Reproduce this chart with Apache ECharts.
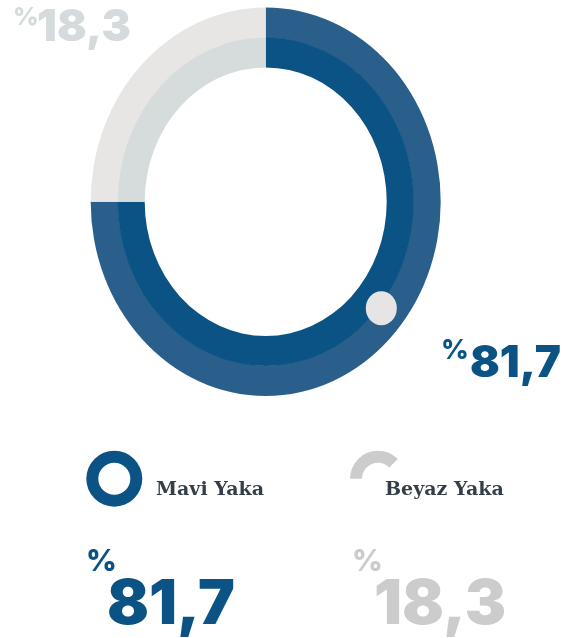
<!DOCTYPE html>
<html>
<head>
<meta charset="utf-8">
<script src="https://cdn.jsdelivr.net/npm/echarts@6/dist/echarts.min.js"></script>
<style>
html,body{margin:0;padding:0;background:#fff;}
#chart{width:579px;height:638px;}
</style>
</head>
<body>
<div id="chart"></div>
<script>
// ---- data ----
const categories = ['Mavi Yaka', 'Beyaz Yaka'];
const shares = [81.7, 18.3];          // printed percentages
const arcShares = [75, 25];           // arc extent as drawn in the ring
const outerColors = ['#2a5f8c', '#e7e6e4'];
const innerColors = ['#0b5384', '#d6dcdc'];
const textColors = ['#0b5384', '#cccccc'];

const fmt = v => String(v).replace('.', ',');

const CX = 265.7, CY = 201.7, SY = 1.11;
const R0 = 121, RM = 148, R1 = 175;
const total = arcShares.reduce((a, b) => a + b, 0);

const chart = echarts.init(document.getElementById('chart'), null, {renderer: 'canvas'});

function nf(s){ return '900 ' + s + 'px Inter'; }

const option = {
  animation: false,
  series: [{
    type: 'custom',
    coordinateSystem: 'none',
    data: categories.map((c, i) => ({name: c, value: arcShares[i]})),
    renderItem: function (params, api) {
      const i = params.dataIndex;
      let before = 0;
      for (let k = 0; k < i; k++) before += arcShares[k];
      const v = api.value(0);
      const start = -Math.PI / 2 + before / total * Math.PI * 2;
      const end = start + v / total * Math.PI * 2;
      return {
        type: 'group',
        originX: CX, originY: CY, scaleY: SY,
        children: [
          {type: 'sector', shape: {cx: CX, cy: CY, r0: RM - 0.5, r: R1, startAngle: start, endAngle: end, clockwise: true},
           style: {fill: outerColors[i]}},
          {type: 'sector', shape: {cx: CX, cy: CY, r0: R0, r: RM, startAngle: start, endAngle: end, clockwise: true},
           style: {fill: innerColors[i]}}
        ]
      };
    }
  }],
  graphic: [
    // decorative dot on ring
    {type: 'circle', x: 381.3, y: 308.3, scaleY: 1.1, shape: {cx: 0, cy: 0, r: 15.5}, style: {fill: '#e6e5e3'}, z: 100},
    // top-left label
    {type: 'text', x: 13, y: 17, z: 100, style: {text: '%', font: '800 25px Inter', fill: '#d5dbdc', align: 'left', verticalAlign: 'middle'}},
    {type: 'text', x: 37, y: 28, z: 100, style: {text: fmt(shares[1]), font: nf(44), fill: '#d5dbdc', align: 'left', verticalAlign: 'middle'}},
    // right label
    {type: 'text', x: 441, y: 351, z: 100, style: {text: '%', font: '800 27px Inter', fill: textColors[0], align: 'left', verticalAlign: 'middle'}},
    {type: 'text', x: 470, y: 364, z: 100, style: {text: fmt(shares[0]), font: nf(44), fill: textColors[0], align: 'left', verticalAlign: 'middle'}},
    // legend icons
    {type: 'ring', shape: {cx: 114.3, cy: 478.7, r: 28, r0: 16}, style: {fill: textColors[0]}},
    {type: 'sector', shape: {cx: 378, cy: 478.7, r: 28, r0: 16, startAngle: Math.PI, endAngle: Math.PI * 1.75, clockwise: true}, style: {fill: textColors[1]}},
    // legend texts
    {type: 'text', x: 156, y: 490, style: {text: categories[0], font: 'bold 19px "DejaVu Serif"', fill: '#333e48', align: 'left', verticalAlign: 'middle'}},
    {type: 'text', x: 385, y: 490, style: {text: categories[1], font: 'bold 19px "DejaVu Serif"', fill: '#333e48', align: 'left', verticalAlign: 'middle'}},
    // bottom numbers
    {type: 'text', x: 86, y: 562, style: {text: '%', font: '800 30px Inter', fill: textColors[0], align: 'left', verticalAlign: 'middle'}},
    {type: 'text', x: 107, y: 605, style: {text: fmt(shares[0]), font: nf(62), fill: textColors[0], align: 'left', verticalAlign: 'middle'}},
    {type: 'text', x: 352, y: 562, style: {text: '%', font: '800 30px Inter', fill: textColors[1], align: 'left', verticalAlign: 'middle'}},
    {type: 'text', x: 374, y: 605, style: {text: fmt(shares[1]), font: nf(62), fill: textColors[1], align: 'left', verticalAlign: 'middle'}}
  ]
};
chart.setOption(option);
</script>
</body>
</html>
